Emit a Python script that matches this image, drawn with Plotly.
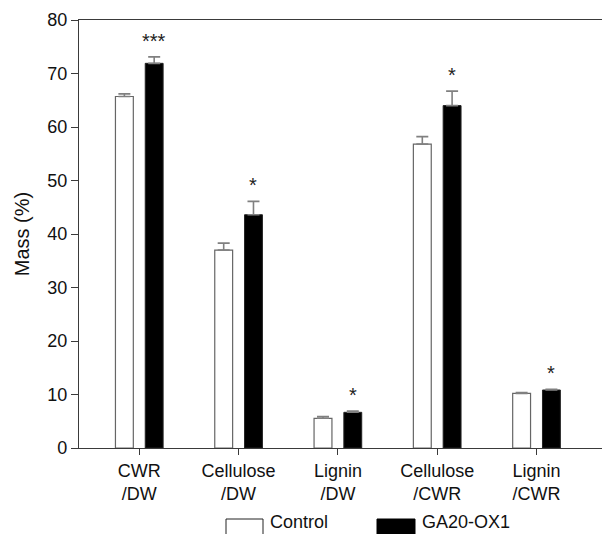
import plotly.graph_objects as go

categories = ["CWR<br>/DW", "Cellulose<br>/DW", "Lignin<br>/DW", "Cellulose<br>/CWR", "Lignin<br>/CWR"]
control_vals = [65.7, 37.0, 5.55, 56.8, 10.2]
control_err = [0.5, 1.3, 0.35, 1.4, 0.15]
ga_vals = [71.9, 43.6, 6.67, 64.0, 10.84]
ga_err = [1.2, 2.5, 0.25, 2.7, 0.15]
sig_labels = ["***", "*", "*", "*", "*"]
yticks = [0, 10, 20, 30, 40, 50, 60, 70, 80]

FONT = "Liberation Sans, Arial, sans-serif"
AX = "#3a3a3a"

# page body has an 8px default margin; size the figure so it fits the window
OFF = 8
W, H = 610 - OFF, 534 - OFF
PL, PR, PT, PB = 79 - OFF, 610, 20 - OFF, 448 - OFF  # plot area in figure pixels
pw, ph = PR - OFF - PL, PB - PT


def px(xp):
    return (xp - OFF - PL) / pw


def py(yp):
    return (PB - (yp - OFF)) / ph


fig = go.Figure()
xs = list(range(len(categories)))
fig.add_trace(go.Bar(
    x=xs, y=control_vals, name="Control",
    width=0.18, offset=-0.24,
    marker=dict(color="white", line=dict(color="#666666", width=1.2)),
    error_y=dict(type="data", array=control_err, arrayminus=[0]*5, symmetric=False,
                 color="#808080", thickness=1.6, width=6),
))
fig.add_trace(go.Bar(
    x=xs, y=ga_vals, name="GA20-OX1",
    width=0.18, offset=0.06,
    marker=dict(color="black", line=dict(color="#222222", width=1)),
    error_y=dict(type="data", array=ga_err, arrayminus=[0]*5, symmetric=False,
                 color="#808080", thickness=1.6, width=6),
))

for i, lab in enumerate(sig_labels):
    fig.add_annotation(x=xs[i] + 0.15, y=ga_vals[i] + ga_err[i], text=lab,
                       showarrow=False, yanchor="bottom", yshift=3,
                       font=dict(family=FONT, size=20, color="#222"))

# legend drawn manually at the bottom
fig.add_shape(type="rect", xref="paper", yref="paper",
              x0=px(226), x1=px(263), y0=py(536), y1=py(519),
              line=dict(color="#222", width=1), fillcolor="white")
fig.add_shape(type="rect", xref="paper", yref="paper",
              x0=px(377), x1=px(415), y0=py(536), y1=py(519),
              line=dict(color="black", width=1), fillcolor="black")
fig.add_annotation(xref="paper", yref="paper", x=px(268), y=py(534),
                   text="Control", showarrow=False, xanchor="left", yanchor="bottom",
                   font=dict(family=FONT, size=18, color="#111"))
fig.add_annotation(xref="paper", yref="paper", x=px(420), y=py(534),
                   text="GA20-OX1", showarrow=False, xanchor="left", yanchor="bottom",
                   font=dict(family=FONT, size=18, color="#111"))

fig.update_layout(
    width=W, height=H,
    margin=dict(l=PL, r=0, t=PT, b=H - PB),
    paper_bgcolor="white", plot_bgcolor="white",
    showlegend=False,
    font=dict(family=FONT, size=18, color="#111"),
    xaxis=dict(range=[-0.607, 4.74], tickmode="array", tickvals=xs, ticktext=categories,
               showgrid=False, zeroline=False, showline=True, linecolor=AX, linewidth=1.2,
               mirror=True, ticks="outside", ticklen=6, tickcolor=AX,
               tickfont=dict(family=FONT, size=18, color="#111")),
    yaxis=dict(range=[0, 80], tickmode="array", tickvals=yticks,
               showgrid=False, zeroline=False, showline=True, linecolor=AX, linewidth=1.2,
               ticks="outside", ticklen=7, tickcolor=AX,
               tickfont=dict(family=FONT, size=18, color="#111"),
               title=dict(text="Mass (%)", font=dict(family=FONT, size=20, color="#111"), standoff=12)),
)

fig.write_html("out.html")
